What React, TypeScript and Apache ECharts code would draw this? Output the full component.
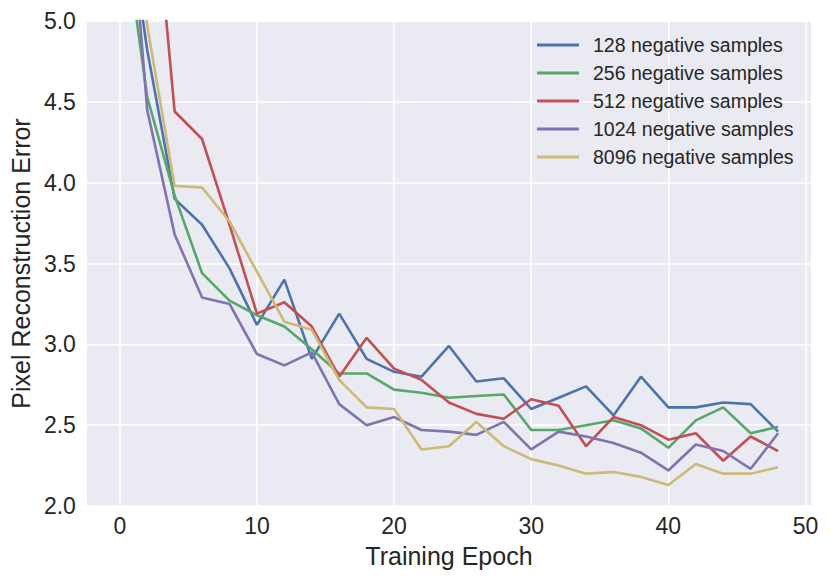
import React, { useEffect, useRef } from "react";
import * as echarts from "echarts";

const epochs = [0, 2, 4, 6, 8, 10, 12, 14, 16, 18, 20, 22, 24, 26, 28, 30, 32, 34, 36, 38, 40, 42, 44, 46, 48];

const neg128 = [6.0, 4.82, 3.9, 3.74, 3.47, 3.12, 3.4, 2.91, 3.19, 2.91, 2.83, 2.8, 2.99, 2.77, 2.79, 2.6, 2.67, 2.74, 2.56, 2.8, 2.61, 2.61, 2.64, 2.63, 2.46];
const neg256 = [5.77, 4.53, 3.92, 3.44, 3.27, 3.18, 3.11, 2.97, 2.82, 2.82, 2.72, 2.7, 2.67, 2.68, 2.69, 2.47, 2.47, 2.5, 2.53, 2.48, 2.36, 2.53, 2.61, 2.45, 2.49];
const neg512 = [8.0, 6.29, 4.44, 4.27, 3.74, 3.19, 3.26, 3.11, 2.8, 3.04, 2.85, 2.78, 2.64, 2.57, 2.54, 2.66, 2.62, 2.37, 2.55, 2.5, 2.41, 2.45, 2.28, 2.43, 2.34];
const neg1024 = [6.53, 4.45, 3.68, 3.29, 3.25, 2.94, 2.87, 2.95, 2.63, 2.5, 2.55, 2.47, 2.46, 2.44, 2.52, 2.35, 2.46, 2.43, 2.39, 2.33, 2.22, 2.38, 2.34, 2.23, 2.45];
const neg8096 = [6.5, 4.97, 3.98, 3.97, 3.76, 3.45, 3.14, 3.09, 2.78, 2.61, 2.6, 2.35, 2.37, 2.52, 2.37, 2.29, 2.25, 2.2, 2.21, 2.18, 2.13, 2.26, 2.2, 2.2, 2.24];

const seriesNames = [
  "128 negative samples",
  "256 negative samples",
  "512 negative samples",
  "1024 negative samples",
  "8096 negative samples",
];
const seriesValues = [neg128, neg256, neg512, neg1024, neg8096];
const colors = ["#4C72B0", "#55A868", "#C44E52", "#8172B2", "#CCB974"];

const xTicks = [0, 10, 20, 30, 40, 50];

const FONT = "'Liberation Sans', Arial, sans-serif";
const TEXT = "#262626";

export default function App() {
  const ref = useRef<HTMLDivElement>(null);
  useEffect(() => {
    if (!ref.current) return;
    const chart = echarts.init(ref.current, null, { renderer: "svg" });
    chart.setOption({
      animation: false,
      backgroundColor: "#ffffff",
      textStyle: { fontFamily: FONT, color: TEXT },
      grid: {
        left: 85,
        right: 20,
        top: 21,
        bottom: 75,
        show: true,
        backgroundColor: "#EAEAF2",
        borderWidth: 0,
      },
      legend: {
        orient: "vertical",
        left: 532,
        top: 30,
        icon: "rect",
        itemWidth: 42,
        itemHeight: 3,
        itemGap: 8,
        itemStyle: { borderWidth: 0 },
        textStyle: { fontFamily: FONT, fontSize: 19.5, color: TEXT, lineHeight: 20, padding: [0, 0, 0, 9] },
        data: seriesNames,
      },
      xAxis: {
        type: "value",
        min: -2.4,
        max: 50.4,
        name: "Training Epoch",
        nameLocation: "middle",
        nameGap: 37,
        nameTextStyle: { fontFamily: FONT, fontSize: 25, color: TEXT },
        axisLine: { show: false },
        axisTick: { show: false, customValues: xTicks },
        axisLabel: {
          customValues: xTicks,
          fontFamily: FONT,
          fontSize: 23,
          color: TEXT,
          margin: 8,
        },
        splitLine: { show: true, lineStyle: { color: "#ffffff", width: 1.6 } },
      },
      yAxis: {
        type: "value",
        min: 2,
        max: 5,
        interval: 0.5,
        name: "Pixel Reconstruction Error",
        nameLocation: "middle",
        nameGap: 51,
        nameTextStyle: { fontFamily: FONT, fontSize: 25, color: TEXT },
        axisLine: { show: false },
        axisTick: { show: false },
        axisLabel: {
          fontFamily: FONT,
          fontSize: 23,
          color: TEXT,
          margin: 11,
          formatter: (v: number) => v.toFixed(1),
        },
        splitLine: { show: true, lineStyle: { color: "#ffffff", width: 1.6 } },
      },
      series: seriesNames.map((name, i) => ({
        name,
        type: "line",
        data: epochs.map((e, j) => [e, seriesValues[i][j]]),
        symbol: "none",
        showSymbol: false,
        clip: true,
        color: colors[i],
        lineStyle: { color: colors[i], width: 2.6 },
        emphasis: { disabled: true },
      })),
    });
    return () => chart.dispose();
  }, []);
  return (
    <div
      ref={ref}
      style={{ position: "fixed", left: 0, top: 0, width: 831, height: 581 }}
    />
  );
}
